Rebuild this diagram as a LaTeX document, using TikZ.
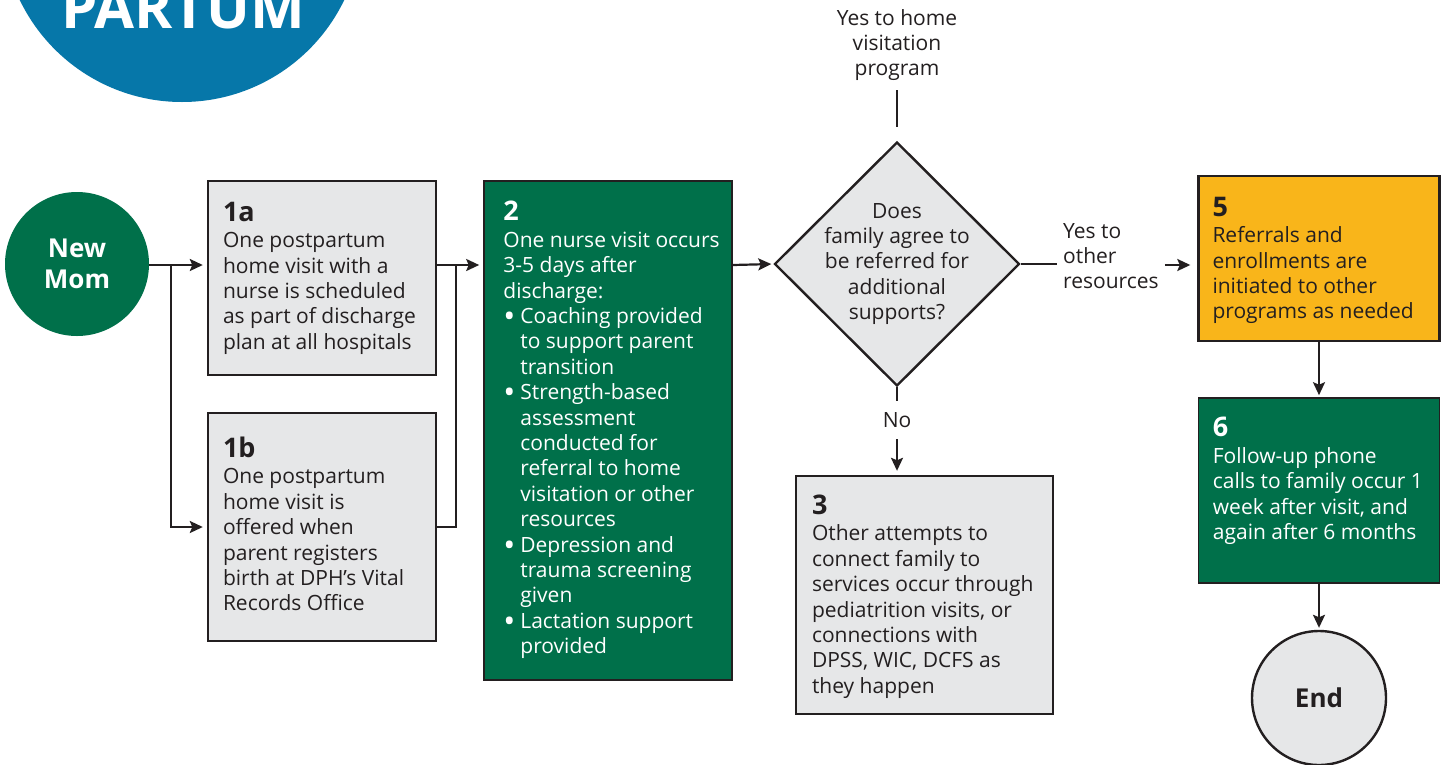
\documentclass[tikz,border=0pt]{standalone}
\usepackage{fontspec}
\setmainfont{Open Sans}
\usetikzlibrary{shapes.geometric,arrows.meta,positioning,calc}

\definecolor{momgreen}{HTML}{00704A}
\definecolor{badgeblue}{HTML}{0677A9}
\definecolor{referyellow}{HTML}{F9B51A}
\definecolor{boxgray}{HTML}{E6E7E8}
\definecolor{inkblack}{HTML}{231F20}

\newcommand{\bodyfont}{\fontsize{21}{25.4}\selectfont}
\newcommand{\stepno}[1]{{\fontsize{27}{27}\selectfont\bfseries #1}}
\newcommand{\bul}{\makebox[17pt][l]{\raisebox{-4pt}{\fontsize{32}{25}\selectfont\textbullet}}}
\newcommand{\hang}{\hspace*{17pt}}

\begin{document}
\begin{tikzpicture} [
                x=1pt, y=-1pt,
                panel/.style={rectangle,draw=inkblack,line width=2.4pt,inner sep=0pt},
                graybox/.style={panel,fill=boxgray},
                greenbox/.style={panel,fill=momgreen,line width=1.6pt},
                txt/.style={inner sep=0pt,align=left,text=inkblack,font=\bodyfont},
                wtxt/.style={txt,text=white},
                link/.style={draw=inkblack,line width=2.2pt},
                arr/.style={link,shorten >=4pt,-{Stealth[length=13pt,width=12pt,inset=2.5pt]}},
            ]
            \useasboundingbox (0,0) rectangle (1444,764);
            \fill[white] (0,0) rectangle (1444,764);
            \clip (0,0) rectangle (1444,764);
            % Badge in the corner
            \node[circle,fill=badgeblue,minimum size=360pt,inner sep=0pt] (badge) at (182,-78) {};
            \node[anchor=base,text=white,font=\fontsize{58}{58}\selectfont\bfseries] (badgetext) at (183,28) {PARTUM};
            % Start and end circles
            \node[circle,fill=momgreen,minimum size=144pt,inner sep=0pt,text=white,align=center,
                font=\fontsize{26}{31}\selectfont\bfseries] (mom) at (77,264) {New\\Mom};
            \node[circle,draw=inkblack,fill=boxgray,line width=2.4pt,minimum size=134pt,inner sep=0pt,
                text=inkblack,font=\fontsize{26}{31}\selectfont\bfseries] (endc) at (1319,698) {End};
            % The step boxes
            \node[graybox,minimum width=228pt,minimum height=194pt] (n1a) at (322,278) {};
            \node[graybox,minimum width=228pt,minimum height=228pt] (n1b) at (322,527) {};
            \node[greenbox,minimum width=248pt,minimum height=499pt] (n2) at (608,430.5) {};
            \node[diamond,draw=inkblack,fill=boxgray,line width=2.4pt,minimum width=245pt,
                minimum height=244pt,inner sep=0pt] (dec) at (897,264) {};
            \node[graybox,minimum width=257pt,minimum height=238pt] (n3) at (924.5,595) {};
            \node[panel,fill=referyellow,minimum width=241pt,minimum height=165pt] (n5) at (1319,258.5) {};
            \node[greenbox,minimum width=241pt,minimum height=185pt] (n6) at (1319,490.5) {};
            % Texts of the boxes
            \node[txt,anchor=north west] (t1a) at ([shift={(16pt,-22pt)}]n1a.north west)
                {\stepno{1a}\\[1pt] One postpartum\\ home visit with a\\ nurse is scheduled\\ as part of discharge\\ plan at all hospitals};
            \node[txt,anchor=north west] (t1b) at ([shift={(16pt,-25pt)}]n1b.north west)
                {\stepno{1b}\\[1pt] One postpartum\\ home visit is\\ offered when\\ parent registers\\ birth at DPH’s Vital\\ Records Office};
            \node[wtxt,anchor=north west] (t2) at ([shift={(20pt,-21pt)}]n2.north west)
                {\stepno{2}\\[1pt] One nurse visit occurs\\ 3-5 days after\\ discharge:\\
                \bul Coaching provided\\ \hang to support parent\\ \hang transition\\
                \bul Strength-based\\ \hang assessment\\ \hang conducted for\\ \hang referral to home\\ \hang visitation or other\\ \hang resources\\
                \bul Depression and\\ \hang trauma screening\\ \hang given\\
                \bul Lactation support\\ \hang provided};
            \node[txt,align=center] (dectext) at (dec.center) {Does\\family agree to\\be referred for\\additional\\supports?};
            \node[txt,anchor=north west] (t3) at ([shift={(17pt,-20pt)}]n3.north west)
                {\stepno{3}\\[1pt] Other attempts to\\ connect family to\\ services occur through\\ pediatrition visits, or\\ connections with\\ DPSS, WIC, DCFS as\\ they happen};
            \node[txt,anchor=north west] (t5) at ([shift={(15pt,-22pt)}]n5.north west)
                {\stepno{5}\\[1pt] Referrals and\\ enrollments are\\ initiated to other\\ programs as needed};
            \node[wtxt,anchor=north west] (t6) at ([shift={(15pt,-20pt)}]n6.north west)
                {\stepno{6}\\[1pt] Follow-up phone\\ calls to family occur 1\\ week after visit, and\\ again after 6 months};
            % Branch labels
            \node[txt,align=center] (yeshome) at (897,45) {Yes to home\\visitation\\program};
            \node[txt,align=center,minimum height=38pt] (no) at (897,420) {No};
            \node[txt,anchor=west,inner xsep=6pt] (yesoth) at (1057,256) {Yes to\\other\\resources};
            % Connectors
            \coordinate (row) at (0,265);
            \coordinate (split) at (171,265);
            \coordinate (merge) at (456,265);
            \coordinate (vtop) at (897,90);
            \draw[arr] (mom.east |- row) -- (n1a.west |- row);
            \draw[arr] (split) |- (n1b.west);
            \draw[link] (n1b.east) -| (merge);
            \draw[arr] (n1a.east |- row) -- (n2.west |- row);
            \draw[arr,shorten >=2pt] (n2.east |- row) -- (dec.west);
            \draw[link] (vtop) -- ([yshift=14pt]dec.north);
            \draw[link] (dec.south) -- (dec.south |- no.north);
            \draw[arr] (dec.south |- no.south) -- (dec.south |- n3.north);
            \draw[link] (dec.east) -- (yesoth.west |- dec.east);
            \draw[arr,shorten >=7pt] (yesoth.east |- row) -- (n5.west |- row);
            \foreach \src/\dst in {n5/n6, n6/endc}
                \draw[arr,shorten >=2pt] (\src.south) -- (\src.south |- \dst.north);
        \end{tikzpicture}
\end{document}
